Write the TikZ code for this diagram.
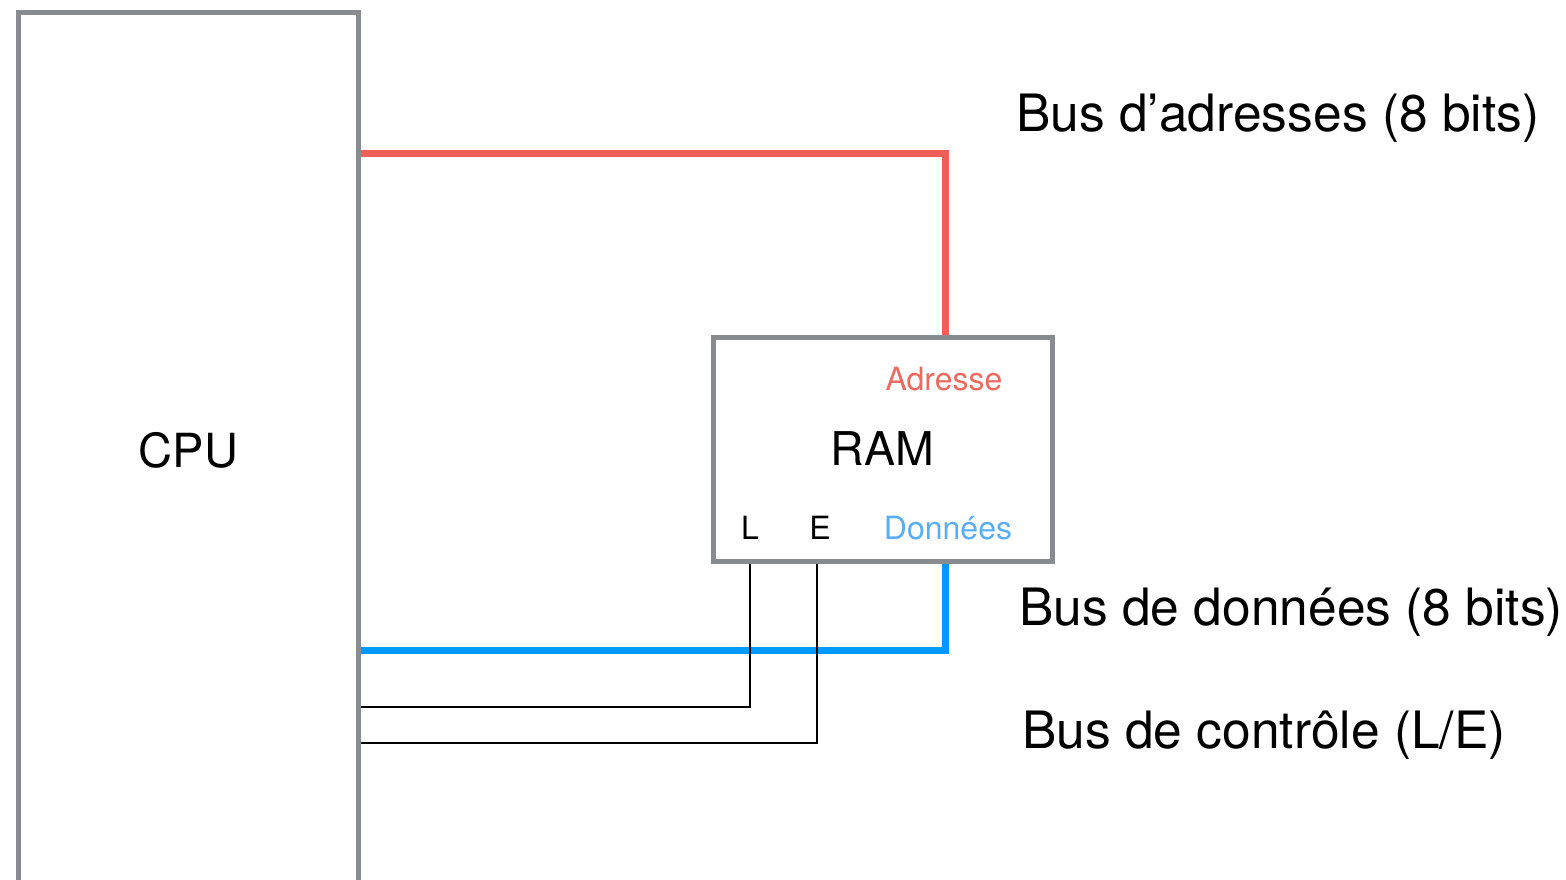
\documentclass[tikz,border=0pt]{standalone}
\usepackage{fontspec}
\setmainfont{TeX Gyre Heros}
\definecolor{boxgray}{HTML}{888B8F}
\definecolor{busred}{HTML}{EE5F57}
\definecolor{busblue}{HTML}{0099FF}
\definecolor{lblred}{HTML}{EE6A60}
\definecolor{lblblue}{HTML}{5AAEF5}
\begin{document}
\begin{tikzpicture}[x=1pt,y=-1pt,
  box/.style={draw=boxgray,line width=5pt,rectangle,inner sep=0pt},
  redbus/.style={draw=busred,line width=7pt},
  bluebus/.style={draw=busblue,line width=7pt},
  ctrl/.style={draw=black,line width=2.2pt},
  biglbl/.style={anchor=west,inner sep=0pt,font=\fontsize{51.5}{57}\selectfont},
  small/.style={inner sep=0pt,font=\fontsize{32}{37}\selectfont}]
\useasboundingbox (0,0) rectangle (1566,880);
\node[box,minimum width=340pt,minimum height=874pt,font=\fontsize{47}{52}\selectfont] (cpu) at (188.5,450) {CPU};
\node[box,minimum width=339pt,minimum height=224pt,font=\fontsize{46.5}{52}\selectfont] (ram) at (882.5,449) {RAM};
\node[small,text=lblred] (adr) at (944,379) {Adresse};
\node[small,text=lblblue] (don) at (948,528) {Données};
\node[small] (lL) at (750,528) {L};
\node[small] (lE) at (820,528) {E};
\coordinate (rc) at (945,154);
\coordinate (bc) at (945,650);
\coordinate (Lc) at (750,707);
\coordinate (Ec) at (817,743);
\draw[redbus] (cpu.east |- rc) -- (rc) -- (rc |- ram.north);
\draw[bluebus] (ram.south -| bc) -- (bc) -- (cpu.east |- bc);
\draw[ctrl] (ram.south -| Lc) -- (Lc) -- (cpu.east |- Lc);
\draw[ctrl] (ram.south -| Ec) -- (Ec) -- (cpu.east |- Ec);
\node[biglbl] (t1) at (1016,118) {Bus d’adresses (8 bits)};
\node[biglbl] (t2) at (1019,612) {Bus de données (8 bits)};
\node[biglbl] (t3) at (1022,735) {Bus de contrôle (L/E)};
\end{tikzpicture}
\end{document}
